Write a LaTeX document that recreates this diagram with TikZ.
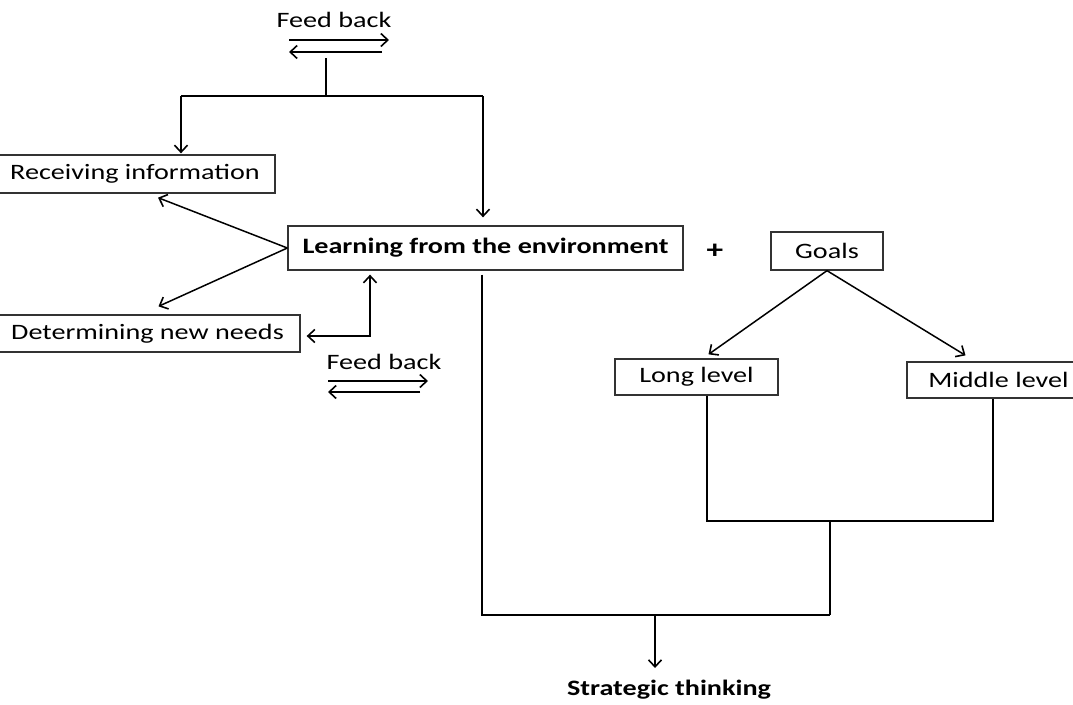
\documentclass[tikz,border=0pt]{standalone}
\usepackage{fontspec}
\setmainfont[FakeStretch=1.28]{Carlito}
\usetikzlibrary{arrows,arrows.meta,positioning,calc}

\begin{document}
\begin{tikzpicture}[x=1pt,y=-1pt,line width=1.5pt,
	>={Straight Barb[length=7pt,width=13pt,line width=1.6pt]},
	box/.style={draw,line width=1.3pt,black!80,text=black,rectangle,inner sep=0pt,font=\fontsize{22}{24}\selectfont},
	lbl/.style={inner sep=0pt,font=\fontsize{22}{24}\selectfont}]

	%Frame of the whole picture (pixel units, y downwards)
	\useasboundingbox (0,0) rectangle (1073,704);

	%Boxes (left and right ones run off the page as in the scan)
	\node[box,minimum width=280pt,minimum height=38pt] (recv) at (135,174) {Receiving information};
	\node[box,minimum width=395pt,minimum height=44pt,font=\fontsize{22}{24}\selectfont\bfseries] (learn) at (485.5,248) {Learning from the environment};
	\node[box,minimum width=305pt,minimum height=37pt] (needs) at (147.5,333.5) {Determining new needs};
	\node[box,minimum width=112pt,minimum height=38pt] (goals) at (827,251) {Goals};
	\node[box,minimum width=163pt,minimum height=36pt] (long) at (696.5,377) {Long level};
	\node[box,minimum width=183pt,minimum height=36pt] (middle) at (998.5,380) {Middle level};

	%Free texts
	\node[lbl] (fb1) at (334,20) {Feed back};
	\node[lbl] (fb2) at (384,362) {Feed back};
	\node[lbl,font=\fontsize{26}{28}\selectfont\bfseries] (plus) at (715,251) {+};
	\node[lbl,font=\fontsize{22}{24}\selectfont\bfseries] (strat) at (669,690) {Strategic thinking};

	%Feed back arrows
	\draw[->] ($(fb1)+(-45,20)$) -- ($(fb1)+(55,20)$);
	\draw[->] ($(fb1)+(48,32)$) -- ($(fb1)+(-45,32)$);
	\draw[->] ($(fb2)+(-56,19)$) -- ($(fb2)+(44,19)$);
	\draw[->] ($(fb2)+(36,30)$) -- ($(fb2)+(-56,30)$);

	%Top tree
	\coordinate (top) at (326,58);
	\coordinate (tj) at (326,96);
	\coordinate (lj) at (181,96);
	\coordinate (rj) at (483,96);
	\draw (top) -- (tj);
	\draw (lj) -- (rj);
	\draw[->,shorten >=1pt] (lj) -- (lj |- recv.north);
	\draw[->,shorten >=8pt] (rj) -- (rj |- learn.north);

	%Learning to the left boxes
	\draw[->] (learn.west) -- ($(recv.south)+(23,4)$);
	\draw[->] (learn.west) -- ($(needs.north)+(11,-8)$);
	\draw[<->,shorten <=6pt,shorten >=4pt] ([yshift=-2.5pt]needs.east) -| ([xshift=-115.5pt]learn.south);

	%Goals
	\draw[->] (goals.south) -- ($(long.north)+(12,-4)$);
	\draw[->] (goals.south) -- ($(middle.north)+(-33,-6)$);

	%Joining to strategic thinking
	\coordinate (mj) at (830,521);
	\coordinate (bj) at (655,615);
	\draw ([xshift=10.5pt]long.south) |- (mj) -| ([xshift=-5.5pt]middle.south);
	\draw (mj) -- (mj |- bj);
	\draw ([xshift=-3.5pt,yshift=-4pt]learn.south) |- (mj |- bj);
	\draw[->] (bj) -- ++(0,53);

\end{tikzpicture}
\end{document}
